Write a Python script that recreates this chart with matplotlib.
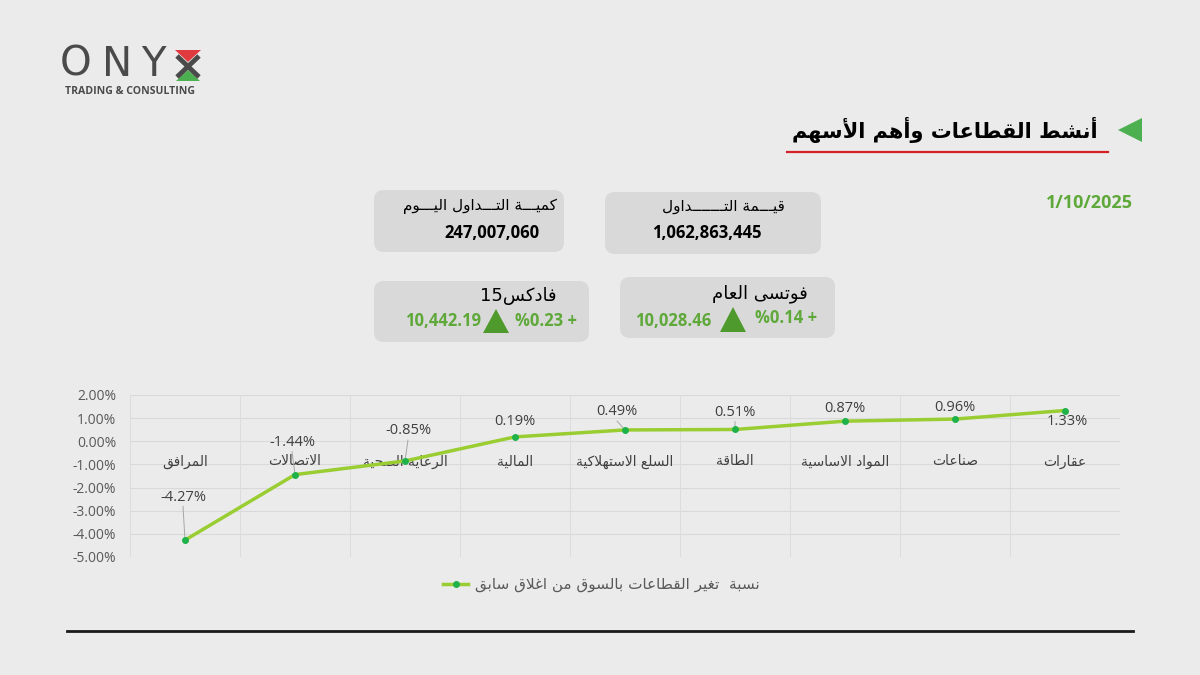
import numpy as np
import matplotlib
matplotlib.use('Agg')
import matplotlib.pyplot as plt
from matplotlib.patches import FancyBboxPatch, Polygon

# chart data
sectors = ['المرافق', 'الاتصالات', 'الرعاية الصحية', 'المالية', 'السلع الاستهلاكية',
           'الطاقة', 'المواد الاساسية', 'صناعات', 'عقارات']
changes = [-4.27, -1.44, -0.85, 0.19, 0.49, 0.51, 0.87, 0.96, 1.33]
y_ticks = [2, 1, 0, -1, -2, -3, -4, -5]

# info boxes
trade_value = '1,062,863,445'
trade_volume = '247,007,060'
fadx_value = '10,442.19'
fadx_change = '%0.23 +'
ftse_value = '10,028.46'
ftse_change = '%0.14 +'
report_date = '1/10/2025'

# label offsets (pixels) for the data labels
label_offsets = [(-2, 43), (-3, 32), (3, 30), (0, 15), (-8, 18), (0, 17), (0, 13), (0, 12), (2, -11)]
leader = [True, True, True, False, True, True, False, False, False]


# --- tiny arabic shaper (matplotlib draws no joining / rtl) ---
def _f(start, n):
    return tuple(chr(start + i) for i in range(n))

FORMS = {
    'ء': _f(0xFE80, 1), 'آ': _f(0xFE81, 2), 'أ': _f(0xFE83, 2), 'ؤ': _f(0xFE85, 2),
    'إ': _f(0xFE87, 2), 'ئ': _f(0xFE89, 4), 'ا': _f(0xFE8D, 2), 'ب': _f(0xFE8F, 4),
    'ة': _f(0xFE93, 2), 'ت': _f(0xFE95, 4), 'ث': _f(0xFE99, 4), 'ج': _f(0xFE9D, 4),
    'ح': _f(0xFEA1, 4), 'خ': _f(0xFEA5, 4), 'د': _f(0xFEA9, 2), 'ذ': _f(0xFEAB, 2),
    'ر': _f(0xFEAD, 2), 'ز': _f(0xFEAF, 2), 'س': _f(0xFEB1, 4), 'ش': _f(0xFEB5, 4),
    'ص': _f(0xFEB9, 4), 'ض': _f(0xFEBD, 4), 'ط': _f(0xFEC1, 4), 'ظ': _f(0xFEC5, 4),
    'ع': _f(0xFEC9, 4), 'غ': _f(0xFECD, 4), 'ف': _f(0xFED1, 4), 'ق': _f(0xFED5, 4),
    'ك': _f(0xFED9, 4), 'ل': _f(0xFEDD, 4), 'م': _f(0xFEE1, 4), 'ن': _f(0xFEE5, 4),
    'ه': _f(0xFEE9, 4), 'و': _f(0xFEED, 2), 'ى': _f(0xFEEF, 2), 'ي': _f(0xFEF1, 4),
    'ـ': ('ـ', 'ـ', 'ـ', 'ـ'),
}
LAMALEF = {'آ': _f(0xFEF5, 2), 'أ': _f(0xFEF7, 2), 'إ': _f(0xFEF9, 2), 'ا': _f(0xFEFB, 2)}


def ar(text):
    out = []
    i = 0
    n = len(text)
    while i < n:
        c = text[i]
        if c not in FORMS:
            out.append(c)
            i += 1
            continue
        prev = text[i - 1] if i > 0 else ''
        join_prev = prev in FORMS and len(FORMS[prev]) == 4
        if c == 'ل' and i + 1 < n and text[i + 1] in LAMALEF:
            lig = LAMALEF[text[i + 1]]
            out.append(lig[1] if join_prev else lig[0])
            i += 2
            continue
        nxt = text[i + 1] if i + 1 < n else ''
        f = FORMS[c]
        join_next = len(f) == 4 and nxt in FORMS
        if len(f) == 4:
            idx = 3 if (join_prev and join_next) else 2 if join_next else 1 if join_prev else 0
        elif len(f) == 2:
            idx = 1 if join_prev else 0
        else:
            idx = 0
        out.append(f[idx])
        i += 1
    return ''.join(out)[::-1]


AR = ['DejaVu Sans']
NUM = ['Open Sans', 'DejaVu Sans']
BG = '#ebebeb'
GREEN_TXT = '#5fa83a'
BOX = '#d9d9d9'

fig = plt.figure(figsize=(12, 6.75), dpi=100, facecolor=BG)

# overlay in pixel coordinates for the slide decoration
deco = fig.add_axes([0, 0, 1, 1])
deco.set_xlim(0, 1200)
deco.set_ylim(675, 0)
deco.axis('off')

# logo
for ch, xc in zip('ONY', [76, 117, 153]):
    deco.text(xc, 65, ch, fontsize=29, color='#4a4a4a', ha='center', va='center',
              family=AR)
deco.plot([177, 199], [56, 77], color='#4a4a4a', lw=3.5, solid_capstyle='butt')
deco.plot([199, 177], [56, 77], color='#4a4a4a', lw=3.5, solid_capstyle='butt')
deco.add_patch(Polygon([[175, 50], [201, 50], [188, 62]], closed=True, color='#e03a3e', lw=0))
deco.add_patch(Polygon([[176, 81], [200, 81], [188, 70]], closed=True, color='#4caf50', lw=0))
deco.text(130, 91, 'TRADING & CONSULTING', fontsize=7.6, fontweight='bold', color='#4a4a4a',
          ha='center', va='center', family=NUM)

# title
deco.text(1098, 130, ar('أنشط القطاعات وأهم الأسهم'), fontsize=15, fontweight='bold',
          color='black', ha='right', va='center', family=AR)
deco.add_patch(Polygon([[1118, 130], [1142, 118], [1142, 142]], closed=True, color='#4caf50', lw=0))
deco.plot([787, 1108], [152, 152], color='#d42027', lw=1.6)

deco.text(1133, 203, report_date, fontsize=13, fontweight='bold', color=GREEN_TXT,
          ha='right', va='center', family=NUM)

# info boxes
def box(x0, y0, x1, y1):
    deco.add_patch(FancyBboxPatch((x0 + 8, y0 + 8), x1 - x0 - 16, y1 - y0 - 16,
                                  boxstyle='round,pad=8,rounding_size=10',
                                  facecolor=BOX, edgecolor='none'))

box(605, 192, 821, 254)
deco.text(785, 207, ar('قيـــمة التـــــــداول'), fontsize=11,
          ha='right', va='center', family=AR)
deco.text(707, 233, trade_value, fontsize=12, fontweight='bold', ha='center', va='center',
          family=NUM)

box(374, 190, 564, 252)
deco.text(557, 206, ar('كميـــة التـــداول اليـــوم'), fontsize=11,
          ha='right', va='center', family=AR)
deco.text(492, 233, trade_volume, fontsize=12, fontweight='bold', ha='center', va='center',
          family=NUM)

box(374, 281, 589, 342)
deco.text(557, 296, '15' + ar('فادكس'), fontsize=13, ha='right', va='center', family=AR)
deco.text(577, 321, fadx_change, fontsize=12, fontweight='bold', color=GREEN_TXT,
          ha='right', va='center', family=NUM)
deco.add_patch(Polygon([[483, 333], [509, 333], [496, 309]], closed=True, color='#4e9a2c', lw=0))
deco.text(481, 321, fadx_value, fontsize=12, fontweight='bold', color=GREEN_TXT,
          ha='right', va='center', family=NUM)

box(620, 277, 835, 338)
deco.text(808, 294, ar('فوتسى العام'), fontsize=13, ha='right', va='center', family=AR)
deco.text(817, 318, ftse_change, fontsize=12, fontweight='bold', color=GREEN_TXT,
          ha='right', va='center', family=NUM)
deco.add_patch(Polygon([[720, 332], [746, 332], [733, 307]], closed=True, color='#4e9a2c', lw=0))
deco.text(711, 321, ftse_value, fontsize=12, fontweight='bold', color=GREEN_TXT,
          ha='right', va='center', family=NUM)

# legend
deco.plot([443, 468], [584, 584], color='#9acd32', lw=2.5)
deco.plot([456], [584], 'o', color='#1fb24a', ms=4)
deco.text(475, 584, ar('نسبة  تغير القطاعات بالسوق من اغلاق سابق'), fontsize=11,
          color='#595959', ha='left', va='center', family=AR)

# bottom rule
deco.plot([67, 1133], [631, 631], color='#1a1a1a', lw=2)

# line chart
ax = fig.add_axes([130 / 1200, (675 - 557) / 675, 990 / 1200, (557 - 395) / 675])
ax.set_facecolor('none')
x = np.arange(len(sectors)) + 0.5
ax.set_xlim(0, len(sectors))
ax.set_ylim(-5, 2)
for s in ax.spines.values():
    s.set_visible(False)
for yv in y_ticks:
    ax.axhline(yv, color='#d9d9d9', lw=0.8, zorder=0)
for xv in range(len(sectors) + 1):
    ax.axvline(xv, color='#dcdcdc', lw=0.7, zorder=0)
ax.set_yticks(y_ticks)
ax.set_yticklabels(['%.2f%%' % v for v in y_ticks], fontsize=10, color='#595959', family=NUM)
ax.tick_params(axis='y', length=0, pad=10)
ax.set_xticks([])

ax.plot(x, changes, color='#9acd32', lw=2.5, zorder=3)
ax.plot(x, changes, 'o', color='#1fb24a', ms=4, zorder=4)

for xi, name in zip(x, sectors):
    ax.text(xi, -0.87, ar(name), fontsize=10, color='#404040', ha='center', va='center',
            family=AR, zorder=2)

for xi, v, off, ld in zip(x, changes, label_offsets, leader):
    ax.annotate('%.2f%%' % v, (xi, v), xytext=off, textcoords='offset pixels',
                ha='center', va='center', fontsize=10.5, color='#404040', family=NUM, zorder=5)
    if ld:
        ax.annotate('', (xi, v), xytext=(off[0], off[1] - 9), textcoords='offset pixels',
                    arrowprops=dict(arrowstyle='-', color='#a6a6a6', lw=0.7,
                                    shrinkA=0, shrinkB=2))

fig.savefig('out.png', dpi=100, facecolor=BG)
